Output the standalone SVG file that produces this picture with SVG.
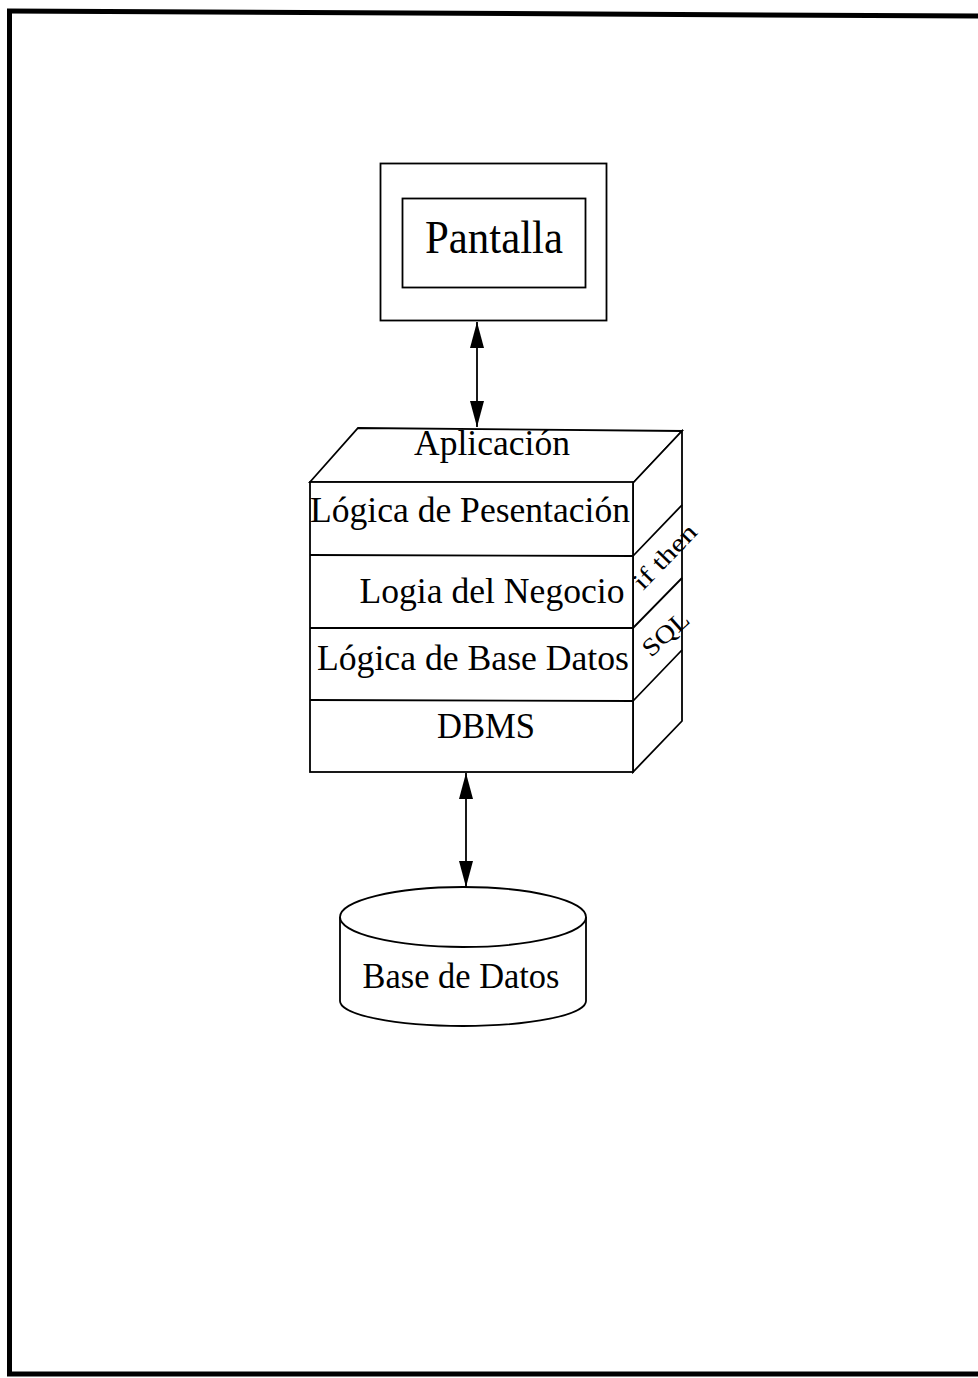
<svg xmlns="http://www.w3.org/2000/svg" width="978" height="1378" viewBox="0 0 978 1378">
  <defs>
    <style>
      .ln { fill: none; stroke: #000; stroke-width: 1.8; }
      .face { fill: #fff; stroke: #000; stroke-width: 1.8; stroke-linejoin: miter; }
      .lbl { font-family: "Liberation Serif", "Times New Roman", serif; fill: #000; }
      .big { font-size: 36px; }
      .small { font-size: 25px; }
    </style>
    <marker id="tip" viewBox="0 0 26 14" refX="26" refY="7" markerWidth="26" markerHeight="14" markerUnits="userSpaceOnUse" orient="auto-start-reverse">
      <path d="M0,0 L26,7 L0,14 Z" fill="#000"/>
    </marker>
  </defs>

  <!-- page frame -->
  <g id="frame" fill="none" stroke="#000" stroke-width="5">
    <path d="M9.5,9 L9.5,1376"/>
    <path d="M7,11 L978,16"/>
    <path d="M7,1374 L978,1374"/>
  </g>

  <!-- screen -->
  <g id="pantalla">
    <rect class="face" x="380.5" y="163.5" width="226" height="157"/>
    <rect class="face" x="402.5" y="198.5" width="183" height="89"/>
    <text class="lbl" x="494" y="253" font-size="46" text-anchor="middle" textLength="138" lengthAdjust="spacingAndGlyphs">Pantalla</text>
  </g>

  <!-- application stack drawn as a block -->
  <g id="aplicacion">
    <path class="face" d="M310,482 L358,428 L682,431 L633,483 Z"/>
    <path class="face" d="M633,483 L682,431 L682,721 L633,772 Z"/>
    <rect class="face" x="310" y="482" width="323" height="290"/>
    <path class="ln" d="M310,555 L633,556 M310,628 L633,628 M310,700 L633,701"/>
    <path class="ln" d="M633,556 L682,505 M633,628 L682,578 M633,701 L682,650"/>
    <text class="lbl big" x="492" y="455" text-anchor="middle" textLength="156" lengthAdjust="spacingAndGlyphs">Aplicación</text>
  </g>

  <g id="presentacion">
    <text class="lbl big" x="470" y="522" text-anchor="middle" textLength="320" lengthAdjust="spacingAndGlyphs">Lógica de Pesentación</text>
  </g>
  <g id="negocio">
    <text class="lbl big" x="492" y="603" text-anchor="middle" textLength="265" lengthAdjust="spacingAndGlyphs">Logia del Negocio</text>
    <text class="lbl small" transform="translate(643,591) rotate(-46)" textLength="80" lengthAdjust="spacingAndGlyphs">if then</text>
  </g>
  <g id="logica-bd">
    <text class="lbl big" x="473" y="670" text-anchor="middle" textLength="312" lengthAdjust="spacingAndGlyphs">Lógica de Base Datos</text>
    <text class="lbl small" transform="translate(651,658) rotate(-42)" textLength="54" lengthAdjust="spacingAndGlyphs">SQL</text>
  </g>
  <g id="dbms">
    <text class="lbl big" x="486" y="738" text-anchor="middle" textLength="98" lengthAdjust="spacingAndGlyphs">DBMS</text>
  </g>

  <!-- database cylinder -->
  <g id="base-datos">
    <path class="face" d="M340,917 L340,1001 A123,25 0 0 0 586,1001 L586,917"/>
    <ellipse class="face" cx="463" cy="917" rx="123" ry="30"/>
    <text class="lbl big" x="461" y="988" text-anchor="middle" textLength="197" lengthAdjust="spacingAndGlyphs">Base de Datos</text>
  </g>

  <!-- connectors -->
  <g id="connectors" class="ln" stroke-width="2">
    <path d="M477,322 L477,427" marker-start="url(#tip)" marker-end="url(#tip)"/>
    <path d="M466,773 L466,887" marker-start="url(#tip)" marker-end="url(#tip)"/>
  </g>
</svg>
